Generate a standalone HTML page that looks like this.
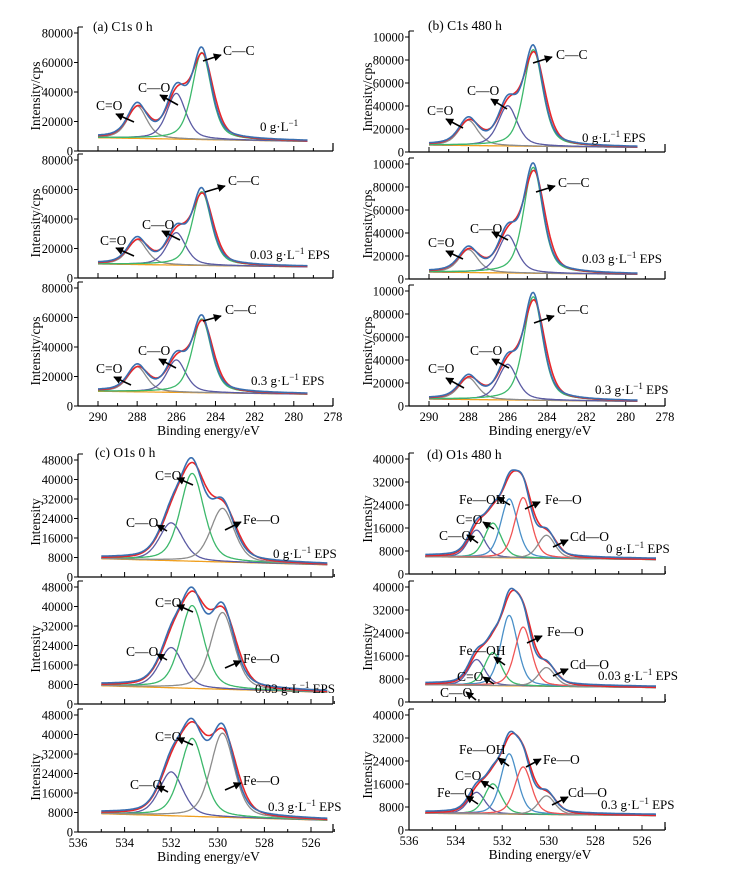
<!DOCTYPE html>
<html><head><meta charset="utf-8"><title>XPS spectra</title>
<style>
html,body{margin:0;padding:0;background:#fff;}
svg{display:block;font-family:"Liberation Serif",serif;}
</style></head>
<body>
<svg id="chart" width="732" height="875" viewBox="0 0 732 875" xmlns="http://www.w3.org/2000/svg">
<defs>
<marker id="ah" viewBox="0 0 10 10" refX="9" refY="5" markerWidth="5" markerHeight="5" orient="auto"><path d="M0,0 L10,5 L0,10 z" fill="#000"/></marker>
</defs>
</svg>
<script>
// ---- data ----
const c1sCenters = [288.0, 286.0, 284.7];
const a1Heights = [22000, 31000, 59000];
const a2Heights = [17000, 22000, 50000];
const a3Heights = [17000, 22000, 50000];
const b1Heights = [22000, 35000, 84000];
const b2Heights = [20000, 33000, 92000];
const b3Heights = [19000, 31000, 90000];
const a1Bg = [9000, 6500]; const a2Bg = [9500, 7500]; const a3Bg = [10000, 8000];
const b1Bg = [6000, 4000]; const b2Bg = [6000, 4000]; const b3Bg = [6000, 4000];
const o1sCCenters = [532.0, 531.1, 529.8];
const c1Heights = [15500, 36000, 22000];
const c2Heights = [16500, 34000, 31500];
const c3Heights = [18000, 32000, 34500];
const c1Bg = [7500, 5000]; const c2Bg = [7500, 4800]; const c3Bg = [7500, 4800];
const o1sDCenters = [533.1, 532.4, 531.7, 531.1, 530.1];
const d1Heights = [9500, 12000, 20500, 21000, 8000];
const d2Heights = [9000, 11500, 24500, 20500, 6500];
const d3Heights = [7500, 10500, 21000, 16500, 6500];
const d1Bg = [6000, 5000]; const d2Bg = [6000, 5000]; const d3Bg = [5800, 5000];
const c1sYTicks = [0, 20000, 40000, 60000, 80000];
const c1sYTickLabelsB = ["0","20000","40000","60000","80000","10000"];
const c1sYTicksB = [0, 20000, 40000, 60000, 80000, 100000];
const o1sYTicksC = [0, 8000, 16000, 24000, 32000, 40000, 48000];
const o1sYTicksD = [0, 8000, 16000, 24000, 32000, 40000];
const c1sXTickLabels = [290, 288, 286, 284, 282, 280, 278];
const o1sXTickLabels = [536, 534, 532, 530, 528, 526];
const c1sColors = ["#8c8c8c", "#5b5ba3", "#3cb86b"];
const cColors = ["#5b5ba3", "#3cb86b", "#8c8c8c"];
const dColors = ["#5b5ba3", "#3cb86b", "#4a90c8", "#f05555", "#8c8c8c"];

const svg = document.getElementById('chart');
const NS = 'http://www.w3.org/2000/svg';
function mk(tag, attrs){const e=document.createElementNS(NS,tag);for(const k in attrs)e.setAttribute(k,attrs[k]);svg.appendChild(e);return e;}
function pv(x,c,w,eta){const d=(x-c)/w;return eta/(1+4*d*d)+(1-eta)*Math.exp(-2.7726*d*d);}

const groups = [
 {id:'a', axisX:78, right:333, ex:e=>98+(290-e)*19.58, zeros:[151,278,406], ppv:118/80000, eS:290, eE:279.3, w:1.15, eta:0.5,
  centers:c1sCenters, heights:[a1Heights,a2Heights,a3Heights], bgs:[a1Bg,a2Bg,a3Bg], colors:c1sColors,
  yTicks:c1sYTicks, yLabels:c1sYTicks.map(String), xLabels:c1sXTickLabels, ytitle:'Intensity/cps', ytx:40},
 {id:'b', axisX:409, right:665, ex:e=>429+(290-e)*19.67, zeros:[152,279,406], ppv:115/100000, eS:290, eE:279.4, w:1.15, eta:0.5,
  centers:c1sCenters, heights:[b1Heights,b2Heights,b3Heights], bgs:[b1Bg,b2Bg,b3Bg], colors:c1sColors,
  yTicks:c1sYTicksB, yLabels:c1sYTickLabelsB, xLabels:c1sXTickLabels, ytitle:'Intensity/cps', ytx:372},
 {id:'c', axisX:78, right:333, ex:e=>78+(536-e)*23.3, zeros:[577,704,832], ppv:117/48000, eS:535, eE:525.3, w:1.2, eta:0.4,
  centers:o1sCCenters, heights:[c1Heights,c2Heights,c3Heights], bgs:[c1Bg,c2Bg,c3Bg], colors:cColors,
  yTicks:o1sYTicksC, yLabels:o1sYTicksC.map(String), xLabels:o1sXTickLabels, ytitle:'Intensity', ytx:40},
 {id:'d', axisX:409, right:665, ex:e=>409+(536-e)*23.3, zeros:[574,702,830], ppv:115/40000, eS:535.3, eE:525.4, w:0.85, eta:0.35,
  centers:o1sDCenters, heights:[d1Heights,d2Heights,d3Heights], bgs:[d1Bg,d2Bg,d3Bg], colors:dColors,
  yTicks:o1sYTicksD, yLabels:o1sYTicksD.map(String), xLabels:o1sXTickLabels, ytitle:'Intensity', ytx:372}
];

groups.forEach(g=>{
  const isC1s = g.id==='a'||g.id==='b';
  const eMin = isC1s?278:525, eMax = isC1s?290:536;
  g.zeros.forEach((z,pi)=>{
    const H=g.heights[pi], B=g.bgs[pi];
    const yv=v=>z-v*g.ppv;
    const bg=e=>B[0]+(B[1]-B[0])*(g.eS-e)/(g.eS-g.eE);
    let l=mk('line',{x1:g.axisX,y1:z,x2:g.right,y2:z,stroke:'#000','stroke-width':1.2});
    
    
    const topV=g.yTicks[g.yTicks.length-1];
    l=mk('line',{x1:g.axisX,y1:z,x2:g.axisX,y2:yv(topV)-6,stroke:'#000','stroke-width':1.2});
    
    
    mk('line',{x1:g.axisX,y1:yv(topV)-6,x2:g.axisX+5,y2:yv(topV)-6,stroke:'#000','stroke-width':1});
    g.yTicks.forEach((t,ti)=>{
      mk('line',{x1:g.axisX-4,y1:yv(t),x2:g.axisX,y2:yv(t),stroke:'#000','stroke-width':1});
      const tx=mk('text',{x:g.axisX-5,y:yv(t)+4.5,'text-anchor':'end','font-size':12.5});
      tx.textContent=g.yLabels[ti];
      
      
    });
    for(let e=eMax;e>=eMin;e--){
      const x=g.ex(e);
      if(x<g.axisX+2) continue;
      const major=(e%2===0);
      mk('line',{x1:x,y1:z,x2:x,y2:z-(major?5:3),stroke:'#000','stroke-width':1});
    }
    mk('line',{x1:g.right,y1:z,x2:g.right,y2:z-8,stroke:'#000','stroke-width':1.2});
    if(pi===2){
      g.xLabels.forEach(v=>{
        const t=mk('text',{x:g.ex(v),y:z+15,'text-anchor':'middle','font-size':12.5});
        t.textContent=String(v);
        
        
      });
      const xt=mk('text',{x:(g.axisX+g.right)/2+3,y:z+29,'text-anchor':'middle','font-size':13.5});
      xt.textContent='Binding energy/eV';
      
      
    }
    const yt=mk('text',{x:0,y:0,'text-anchor':'middle','font-size':13.5,transform:`translate(${g.ytx},${z-55}) rotate(-90)`});
    yt.textContent=g.ytitle;
    
    
    const N=260, es=[];
    for(let i=0;i<=N;i++) es.push(g.eS+(g.eE-g.eS)*i/N);
    const path=f=>es.map((e,i)=>(i?'L':'M')+g.ex(e).toFixed(1)+','+yv(f(e)).toFixed(1)).join('');
    let p=mk('path',{d:path(bg),fill:'none',stroke:'#f0a020','stroke-width':1.3});
    
    
    g.centers.forEach((c,ci)=>{
      const cp=mk('path',{d:path(e=>bg(e)+H[ci]*pv(e,c,g.w,g.eta)),fill:'none',stroke:g.colors[ci],'stroke-width':1.3});
      
      
    });
    p=mk('path',{d:path(e=>bg(e)+g.centers.reduce((s,c,ci)=>s+H[ci]*0.93*pv(e+0.05,c,g.w*1.12,g.eta*0.8),0)),fill:'none',stroke:'#e8262a','stroke-width':1.6});
    
    
    p=mk('path',{d:path(e=>bg(e)+400+g.centers.reduce((s,c,ci)=>s+H[ci]*pv(e,c,g.w,g.eta),0)),fill:'none',stroke:'#3a6fb0','stroke-width':1.6});
    
    
  });
});

[['(a) C1s 0 h',93,31],['(b) C1s 480 h',428,30],['(c) O1s 0 h',95,457],['(d) O1s 480 h',427,459]].forEach(a=>{
  const t=mk('text',{x:a[1],y:a[2],'font-size':13.5});
  t.textContent=a[0];
  
  
});

const notes=[
 ['C—C',223,55,203,61,221,55],['C—O',138,92,178,105,160,95],['C=O',96,110,134,122,116,114],
 ['C—C',228,185,205,192,225,186],['C—O',142,229,180,240,162,231],['C=O',100,245,134,256,116,248],
 ['C—C',225,314,203,321,221,316],['C—O',138,355,176,368,159,359],['C=O',96,373,131,385,114,377],
 ['C—C',556,59,533,63,552,57],['C—O',467,95,507,109,491,99],['C=O',427,115,463,128,446,119],
 ['C—C',558,187,536,192,555,186],['C—O',470,233,508,240,492,232],['C=O',428,247,463,259,446,251],
 ['C—C',557,314,534,323,554,316],['C—O',470,355,509,368,492,359],['C=O',428,373,464,388,446,378],
 ['C=O',155,480,193,485,177,478],['C—O',126,527,167,531,157,525],['Fe—O',243,524,225,530,241,522],
 ['C=O',155,607,193,612,177,605],['C—O',126,656,167,660,157,654],['Fe—O',243,663,225,668,241,661],
 ['C=O',155,741,193,745,177,738],['C—O',130,789,168,792,157,786],['Fe—O',243,785,225,790,241,783],
 ['Fe—OH',459,504,510,505,497,497],['Fe—O',545,504,525,509,540,502],['C=O',456,524,494,529,483,522],['C—O',439,540,478,543,467,535],['Cd—O',570,541,553,547,568,540],
 ['Fe—OH',459,655,505,665,494,657],['Fe—O',547,636,527,643,542,636],['C=O',457,681,494,684,483,677],['C—O',440,697,476,700,466,692],['Cd—O',570,669,553,676,568,669],
 ['Fe—OH',459,754,509,766,498,758],['Fe—O',543,764,526,767,541,759],['C=O',455,780,494,789,481,781],['Fe—O',437,797,478,804,466,796],['Cd—O',568,797,552,805,568,797]
];
notes.forEach(n=>{
  const t=mk('text',{x:n[1],y:n[2],'font-size':13.5});
  t.textContent=n[0];
  
  
  const a=mk('line',{x1:n[3],y1:n[4],x2:n[5],y2:n[6],stroke:'#000','stroke-width':1.6,'marker-end':'url(#ah)'});
  
  
});

const conc=[['0',260,131,''],['0.03',250,259,' EPS'],['0.3',251,385,' EPS'],
 ['0',582,142,' EPS'],['0.03',582,263,' EPS'],['0.3',595,394,' EPS'],
 ['0',273,558,' EPS'],['0.03',255,693,' EPS'],['0.3',268,811,' EPS'],
 ['0',606,553,' EPS'],['0.03',598,680,' EPS'],['0.3',601,809,' EPS']];
conc.forEach(c=>{
  const t=mk('text',{x:c[1],y:c[2],'font-size':13});
  
  
  const s1=document.createElementNS(NS,'tspan');s1.textContent=c[0]+' g·L';t.appendChild(s1);
  const s2=document.createElementNS(NS,'tspan');s2.setAttribute('dy','-5');s2.setAttribute('font-size','9');s2.textContent='−1';t.appendChild(s2);
  const s3=document.createElementNS(NS,'tspan');s3.setAttribute('dy','5');s3.textContent=c[3];t.appendChild(s3);
});
</script>
</body></html>
